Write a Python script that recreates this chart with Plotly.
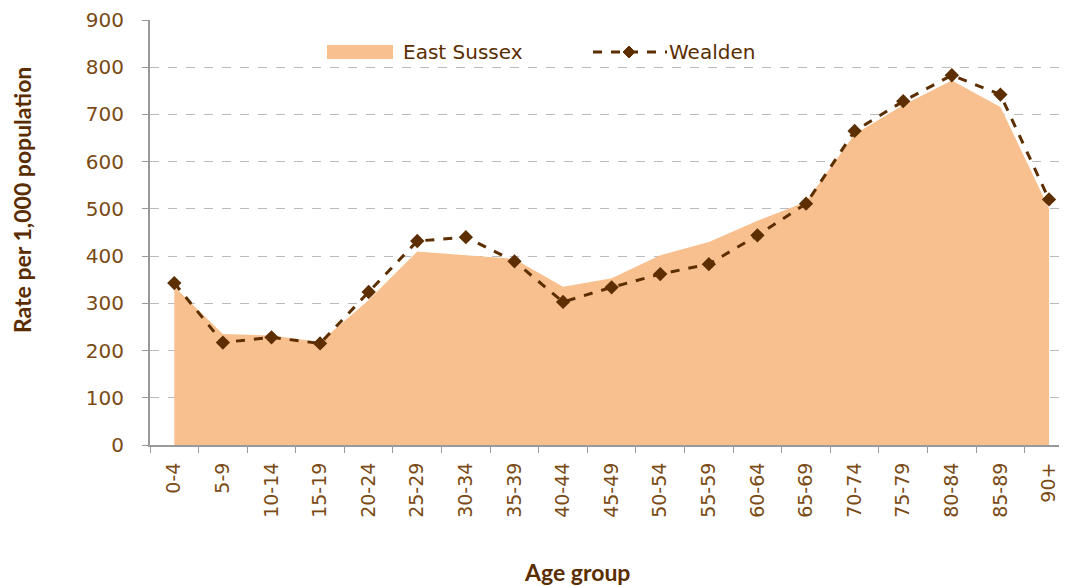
import plotly.graph_objects as go

age_groups = ["0-4", "5-9", "10-14", "15-19", "20-24", "25-29", "30-34", "35-39",
              "40-44", "45-49", "50-54", "55-59", "60-64", "65-69", "70-74", "75-79",
              "80-84", "85-89", "90+"]
east_sussex = [335, 235, 232, 218, 307, 410, 402, 394, 335, 353, 402, 430, 475, 515,
               658, 720, 772, 716, 501]
wealden = [343, 217, 228, 215, 324, 432, 440, 389, 303, 334, 362, 383, 444, 511,
           665, 728, 783, 742, 520]
y_ticks = [0, 100, 200, 300, 400, 500, 600, 700, 800, 900]

tick_color = "#7a4a14"
title_color = "#5a2d00"
area_color = "#F9C08F"
line_color = "#5C2E00"

# page is offset by the browser's 8px body margin
OFF = 8
W, H = 1067 - OFF, 586 - OFF
L, T = 150 - OFF, 20 - OFF
PW, PH = W - L, 425
B = H - T - PH
PLOT_BOTTOM = 445  # page px


def px(xpage):
    return (xpage - OFF - L) / PW


def py(ypage):
    return (PLOT_BOTTOM - ypage) / PH


fig = go.Figure()
fig.add_trace(go.Scatter(
    x=age_groups, y=east_sussex, name="East Sussex", mode="none",
    fill="tozeroy", fillcolor=area_color, showlegend=False))
fig.add_trace(go.Scatter(
    x=age_groups, y=wealden, name="Wealden", mode="lines+markers",
    line=dict(color=line_color, width=3, dash="dash"),
    marker=dict(symbol="diamond", size=11, color=line_color), showlegend=False))

# manual legend
ly = 52
dx, dy = 6 / PW, 6 / PH
cx, cy = px(629), py(ly)
shapes = [
    dict(type="rect", xref="paper", yref="paper", x0=px(327), x1=px(393),
         y0=py(59), y1=py(45), fillcolor=area_color, line=dict(width=0)),
    dict(type="line", xref="paper", yref="paper", x0=px(593), x1=px(667),
         y0=cy, y1=cy, line=dict(color=line_color, width=3, dash="dash")),
    dict(type="path", xref="paper", yref="paper",
         path=f"M {cx - dx} {cy} L {cx} {cy + dy} L {cx + dx} {cy} L {cx} {cy - dy} Z",
         fillcolor=line_color, line=dict(color=line_color, width=1)),
]

annotations = [
    dict(text="East Sussex", xref="paper", yref="paper", x=px(401), y=py(ly),
         xanchor="left", yanchor="middle", showarrow=False,
         font=dict(family="DejaVu Sans", size=20, color=title_color)),
    dict(text="Wealden", xref="paper", yref="paper", x=px(667), y=py(ly),
         xanchor="left", yanchor="middle", showarrow=False,
         font=dict(family="DejaVu Sans", size=20, color=title_color)),
    dict(text="<b>Age group</b>", xref="paper", yref="paper", x=px(577), y=py(572),
         xanchor="center", yanchor="middle", showarrow=False,
         font=dict(family="Lato", size=23, color=title_color)),
    dict(text="<b>Rate per 1,000 population</b>", textangle=-90,
         xref="paper", yref="paper", x=px(22), y=py(200),
         xanchor="center", yanchor="middle", showarrow=False,
         font=dict(family="Lato", size=23, color=title_color)),
]

fig.update_layout(
    width=W, height=H,
    margin=dict(l=L, r=0, t=T, b=B),
    paper_bgcolor="white", plot_bgcolor="white",
    font=dict(family="DejaVu Sans", size=18, color=tick_color),
    showlegend=False,
    xaxis=dict(type="category", range=[-0.5, 18.37], tickson="boundaries",
               ticks="outside", ticklen=6, tickcolor="#999999",
               showline=True, linecolor="#999999", linewidth=2,
               showgrid=False, tickangle=-90, ticklabelstandoff=8,
               tickfont=dict(family="DejaVu Sans", size=19, color=tick_color)),
    yaxis=dict(range=[0, 900], tickvals=y_ticks,
               ticks="outside", ticklen=6, tickcolor="#999999",
               showline=True, linecolor="#999999", linewidth=2,
               showgrid=True, gridcolor="#bbbbbb", griddash="dash", gridwidth=1,
               zeroline=False, ticklabelstandoff=14,
               tickfont=dict(family="DejaVu Sans", size=20, color=tick_color)),
    shapes=shapes,
    annotations=annotations,
)

fig.write_html("out.html")
